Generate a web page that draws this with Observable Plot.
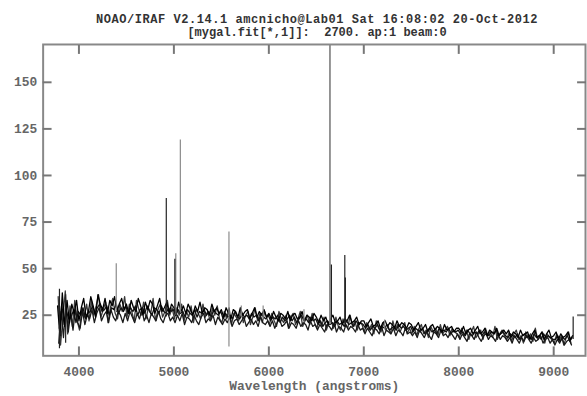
<!DOCTYPE html>
<html><head><meta charset="utf-8">
<script src="https://cdn.jsdelivr.net/npm/d3@7"></script>
<script src="https://cdn.jsdelivr.net/npm/@observablehq/plot@0.6"></script>
<style>
html,body{margin:0;padding:0;background:#fff;overflow:hidden;width:587px;height:396px}
#title{height:43px;position:relative;font:bold 12px "Liberation Mono",monospace;color:#333;white-space:pre}
#title div{position:absolute;left:0;width:634px;text-align:center;line-height:12px;height:12px}
#chart svg{display:block}
</style></head><body>
<div id="title"><div id="t1" style="top:14px;letter-spacing:0.55px"></div><div id="t2" style="top:27px"></div></div>
<div id="chart"></div>
<script>
const titleLine1 = "NOAO/IRAF V2.14.1 amcnicho@Lab01 Sat 16:08:02 20-Oct-2012";
const titleLine2 = "[mygal.fit[*,1]]:  2700. ap:1 beam:0";
const xLabel = "Wavelength (angstroms)";
const xTicks = [4000, 5000, 6000, 7000, 8000, 9000];
const yTicks = [25, 50, 75, 100, 125, 150];

// Spectrum sampling (dispersion): start wavelengths of four overplotted traces, step in angstroms
const waveStartA = 3775, waveStartB = 3787.5, waveStartC = 3781.25, waveStartD = 3793.75, waveStep = 25;
const fluxA = [30,14,37,19,33,
  21,31,26,33,22,29,34,24,
  27,35,30,24,36,31,28,34,26,33,30,35,27,31,34,28,
  31,26,33,29,27,34,30,25,32,28,33,31,26,30,34,27,29,32,26,31,
  29,25,32,27,30,26,31,28,25,30,27,32,26,29,28,25,31,27,29,26,
  28,24,29,26,23,28,27,24,29,25,27,28,23,26,29,24,27,25,28,24,
  26,23,27,24,22,26,25,23,27,22,25,26,23,24,27,22,25,24,22,26,
  24,21,25,22,24,20,23,25,21,22,24,20,23,22,25,21,22,24,20,22,
  22,19,21,23,19,20,22,18,21,22,19,21,20,18,22,19,21,20,18,21,
  20,17,19,21,17,18,20,16,19,20,17,19,18,16,20,17,18,19,16,18,
  18,16,19,15,17,18,15,17,19,15,16,18,14,17,16,15,18,14,16,17,
  15,17,13,16,15,13,17,14,15,16,12,15,17,13,14,16,12,15,17,13,
  14,16,12,15,13,14,16,12,14];
const fluxB = [10,27,13,31,16,
  26,17,28,21,18,27,20,25,
  23,28,21,26,29,22,25,27,21,28,24,22,27,25,21,26,
  22,27,24,21,26,23,28,22,25,21,26,24,22,27,23,21,25,26,22,24,
  21,25,22,26,20,24,23,21,25,22,20,24,26,21,23,22,25,20,24,22,
  20,23,21,24,19,22,23,20,22,24,19,21,23,20,22,19,24,21,20,22,
  19,22,18,21,23,19,20,22,18,21,20,18,22,19,21,20,17,22,19,20,
  17,20,18,16,20,19,17,21,16,19,18,16,20,17,19,18,16,20,17,18,
  15,18,16,14,18,17,15,19,14,17,16,15,18,14,17,16,14,18,15,16,
  14,16,13,17,15,13,16,14,12,16,15,13,17,14,15,13,16,14,12,15,
  12,15,13,11,15,14,12,16,13,11,14,15,12,14,13,11,15,12,14,13,
  11,13,10,14,12,10,13,11,14,12,10,13,11,12,14,10,12,13,10,12,
  9,12,10,13,9,11,12,9];
const fluxC = [35,9,24,38,15,
  30,19,33,22,17,29,24,31,
  22,33,25,30,36,24,28,32,21,29,34,26,23,31,27,35,
  24,31,27,22,33,28,25,32,23,29,26,34,22,28,31,24,27,33,25,29,
  23,29,25,31,22,27,24,30,21,28,26,23,31,24,27,22,29,25,30,23,
  21,27,23,29,20,26,24,22,28,21,25,27,20,24,29,22,26,21,27,23,
  20,26,22,19,27,23,21,25,18,24,26,20,23,27,19,22,25,20,26,21,
  18,23,19,24,17,21,22,18,24,19,17,23,20,18,25,19,22,17,21,20,
  16,21,17,20,15,22,18,16,21,17,19,15,22,17,20,16,19,21,15,18,
  15,19,14,18,20,15,17,13,19,16,18,14,20,15,17,19,14,18,16,15,
  13,18,14,17,12,16,19,13,15,17,12,18,14,16,13,19,12,15,17,14,
  12,16,11,15,17,12,14,10,16,13,15,11,18,12,14,16,10,15,13,12,
  10,15,11,14,9,13,16,10];
const fluxD = [18,31,20,27,23,
  24,28,21,27,25,29,23,26,
  27,30,26,29,31,27,28,30,25,29,28,31,26,29,27,30,
  26,29,27,30,25,28,29,26,30,27,25,29,28,26,30,27,26,29,27,28,
  25,28,26,27,24,28,26,25,28,24,27,26,28,25,27,24,28,26,25,27,
  23,26,24,25,23,27,24,23,26,24,25,23,26,24,25,22,26,24,23,25,
  22,24,23,25,21,24,22,23,25,22,24,21,23,25,22,23,21,24,22,23,
  20,22,19,21,22,20,21,19,22,20,21,19,22,20,21,19,22,20,21,20,
  18,20,17,19,18,20,17,19,18,20,17,18,19,17,20,18,19,17,18,19,
  16,18,17,16,18,15,17,18,16,17,15,18,16,17,16,18,15,17,16,17,
  15,16,14,17,15,14,16,15,17,14,16,15,14,16,15,17,14,15,16,14,
  13,15,14,13,15,12,14,15,13,14,12,15,13,14,12,15,13,14,13,12,
  12,14,11,13,12,14,11,13];

// Emission / sky line spikes
const spikeBlackWave = [3795, 3860, 4920, 5010, 6659, 6800, 6806, 9205];
const spikeBlackLow  = [7, 10, 24, 25, 21, 21, 21, 12];
const spikeBlackPeak = [39, 36, 87.7, 55, 52, 57, 45, 24];
const spikeGrayWave = [4393, 5020, 5068, 5580, 5710, 5940, 6370, 6641, 6646, 7220];
const spikeGrayLow  = [27, 25, 26, 8, 24, 23, 21, 20, 20, 17];
const spikeGrayPeak = [52.6, 58, 119, 69.6, 30, 30, 28, 175, 175, 22.5];

document.getElementById("t1").textContent = titleLine1;
document.getElementById("t2").textContent = titleLine2;

const toSpec = (flux, start) => flux.map((f, i) => ({w: start + i * waveStep, f}));
const specA = toSpec(fluxA, waveStartA);
const specB = toSpec(fluxB, waveStartB);
const specC = toSpec(fluxC, waveStartC);
const specD = toSpec(fluxD, waveStartD);
const spikesBlack = spikeBlackWave.map((w, i) => ({w, lo: spikeBlackLow[i], hi: spikeBlackPeak[i]}));
const spikesGray = spikeGrayWave.map((w, i) => ({w, lo: spikeGrayLow[i], hi: spikeGrayPeak[i]}));

const axisStyle = {stroke: "#777", strokeWidth: 2, fill: "#666"};
const chart = Plot.plot({
  width: 592, height: 353,
  marginTop: 1, marginLeft: 43, marginRight: 2, marginBottom: 38,
  style: {fontFamily: "Liberation Mono, monospace", fontSize: "13px", fontWeight: "bold", background: "#fff"},
  x: {domain: [3623, 9335]},
  y: {domain: [3.2, 170.3]},
  marks: [
    Plot.line(specC, {x: "w", y: "f", stroke: "#3a3a3a", strokeWidth: 1.3, clip: true}),
    Plot.line(specB, {x: "w", y: "f", stroke: "#1a1a1a", strokeWidth: 1.3, clip: true}),
    Plot.line(specD, {x: "w", y: "f", stroke: "#111", strokeWidth: 1.3, clip: true}),
    Plot.line(specA, {x: "w", y: "f", stroke: "#000", strokeWidth: 1.3, clip: true}),
    Plot.ruleX(spikesGray, {x: "w", y1: "lo", y2: "hi", stroke: "#8a8a8a", strokeWidth: 1.2, clip: true}),
    Plot.ruleX(spikesBlack, {x: "w", y1: "lo", y2: "hi", stroke: "#222", strokeWidth: 1.2, clip: true}),
    Plot.frame({stroke: "#888", strokeWidth: 2}),
    Plot.axisY(yTicks, {anchor: "left", tickSize: -9, tickPadding: 15, label: null, ...axisStyle}),
    Plot.axisY(yTicks, {anchor: "right", tickSize: -9, tickFormat: () => "", label: null, ...axisStyle}),
    Plot.axisX(xTicks, {anchor: "bottom", tickSize: -9, tickPadding: 20, tickFormat: d3.format("d"), label: xLabel, labelAnchor: "center", labelArrow: "none", labelOffset: 34, ...axisStyle}),
    Plot.axisX(xTicks, {anchor: "top", tickSize: -9, tickFormat: () => "", label: null, ...axisStyle})
  ]
});
document.getElementById("chart").appendChild(chart);
</script></body></html>
